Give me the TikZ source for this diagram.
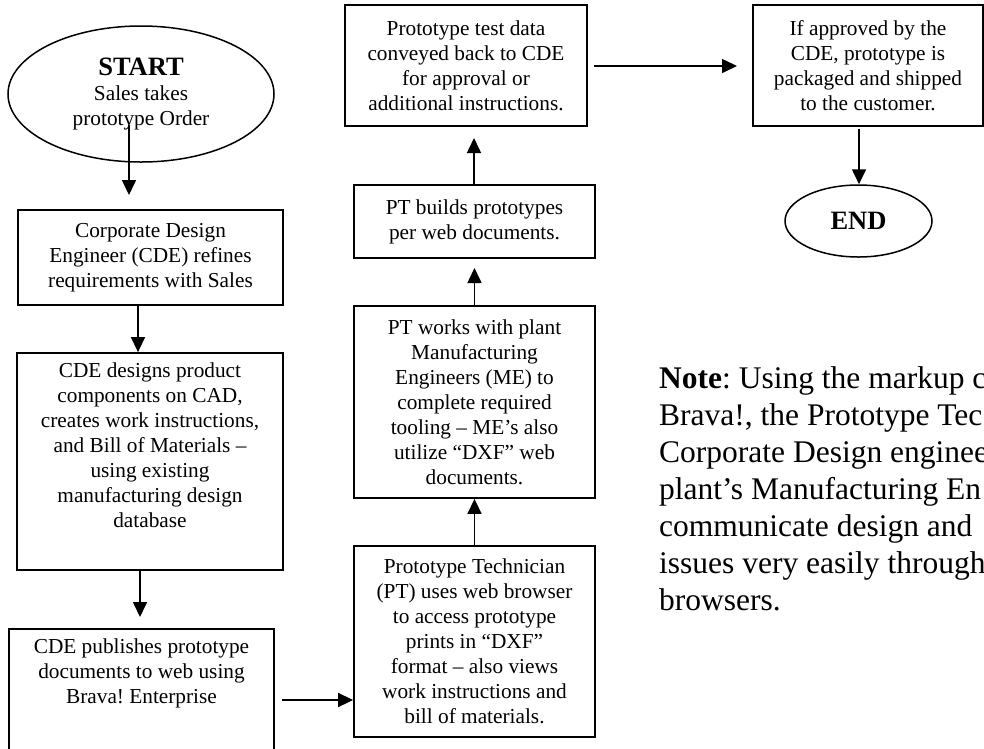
\documentclass[tikz,border=0pt]{standalone}
\usepackage{fontspec}
\setmainfont{Liberation Serif}
\usetikzlibrary{arrows.meta,shapes.geometric}
\newcommand{\boxfont}{\fontsize{21.3}{25}\selectfont}
\newcommand{\notefont}{\fontsize{31.5}{37}\selectfont}
\newcommand{\bigbold}{\fontsize{26.5}{30}\selectfont\bfseries}
\frenchspacing
\begin{document}
\begin{tikzpicture}[x=1pt,y=-1pt,
  procbox/.style={draw, line width=1.8pt, rectangle, inner sep=0pt, font=\boxfont},
  term/.style={draw, line width=1.5pt, ellipse, inner sep=0pt, align=center, font=\boxfont},
  arr/.style={line width=1.6pt, -{Triangle[width=14pt,length=15pt]}}]
\useasboundingbox (0,0) rectangle (984,748);
\clip (0,0) rectangle (984,748);
\fill[white] (0,0) rectangle (984,748);

% left column
\node[term, minimum width=266pt, minimum height=136pt] (start) at (141,94) {{\bigbold START}\\Sales takes\\prototype Order};
\node[procbox, align=center, minimum width=265pt, minimum height=95pt] (b1) at (150.5,257.5) {Corporate Design\\Engineer (CDE) refines\\requirements with Sales};
\node[procbox, minimum width=266pt, minimum height=217pt] (b2) at (150,461.5) {\parbox[c][217pt][t]{258pt}{\centering\vspace*{10pt}CDE designs product\\components on CAD,\\creates work instructions,\\and Bill of Materials –\\using existing\\manufacturing design\\database}};
\node[procbox, minimum width=265pt, minimum height=171pt] (b3) at (141.5,714.5) {\parbox[c][171pt][t]{257pt}{\centering\vspace*{10pt}CDE publishes prototype\\documents to web using\\Brava! Enterprise}};

% middle column
\node[procbox, align=center, minimum width=242pt, minimum height=121pt] (t1) at (466,65.5) {Prototype test data\\conveyed back to CDE\\for approval or\\additional instructions.};
\node[procbox, align=center, minimum width=241pt, minimum height=73pt] (t2) at (474.5,221.5) {PT builds prototypes\\per web documents.};
\node[procbox, align=center, minimum width=241pt, minimum height=192pt] (t3) at (474.5,402) {PT works with plant\\Manufacturing\\Engineers (ME) to\\complete required\\tooling – ME’s also\\utilize “DXF” web\\documents.};
\node[procbox, align=center, minimum width=241pt, minimum height=191pt] (t4) at (474.5,641.5) {Prototype Technician\\(PT) uses web browser\\to access prototype\\prints in “DXF”\\format – also views\\work instructions and\\bill of materials.};

% right column
\node[procbox, align=center, minimum width=230pt, minimum height=121pt] (r1) at (868,65.5) {If approved by the\\CDE, prototype is\\packaged and shipped\\to the customer.};
\node[term, minimum width=147pt, minimum height=72pt] (endn) at (858.5,221) {\bigbold END};

% note
\node[font=\notefont, align=left, anchor=north west, inner sep=0pt] (note) at (659,366.5) {\textbf{Note}: Using the markup c\\Brava!, the Prototype Tec\\Corporate Design enginee\\plant’s Manufacturing En\\communicate design and\\issues very easily through\\browsers.};

% connectors
\coordinate (a1s) at (129,125);
\coordinate (a1e) at (129,195);
\draw[arr] (a1s) -- (a1e);
\coordinate (c2) at (138,0);
\draw[arr] (c2 |- b1.south) -- (c2 |- b2.north);
\coordinate (c3) at (140,0);
\coordinate (a3e) at (140,617);
\draw[arr] (c3 |- b2.south) -- (a3e);
\coordinate (a4s) at (282,700);
\draw[arr] (a4s) -- (a4s -| t4.west);
\draw[arr] (t4.north) -- (t3.south);
\coordinate (a6e) at (474.5,268);
\draw[arr] (t3.north) -- (a6e);
\coordinate (a7e) at (474,138);
\draw[arr] (a7e |- t2.north) -- (a7e);
\coordinate (a8s) at (594,66);
\coordinate (a8e) at (737,66);
\draw[arr] (a8s) -- (a8e);
\coordinate (a9s) at (859,129);
\draw[arr] (a9s) -- (a9s |- endn.north);
\end{tikzpicture}
\end{document}
